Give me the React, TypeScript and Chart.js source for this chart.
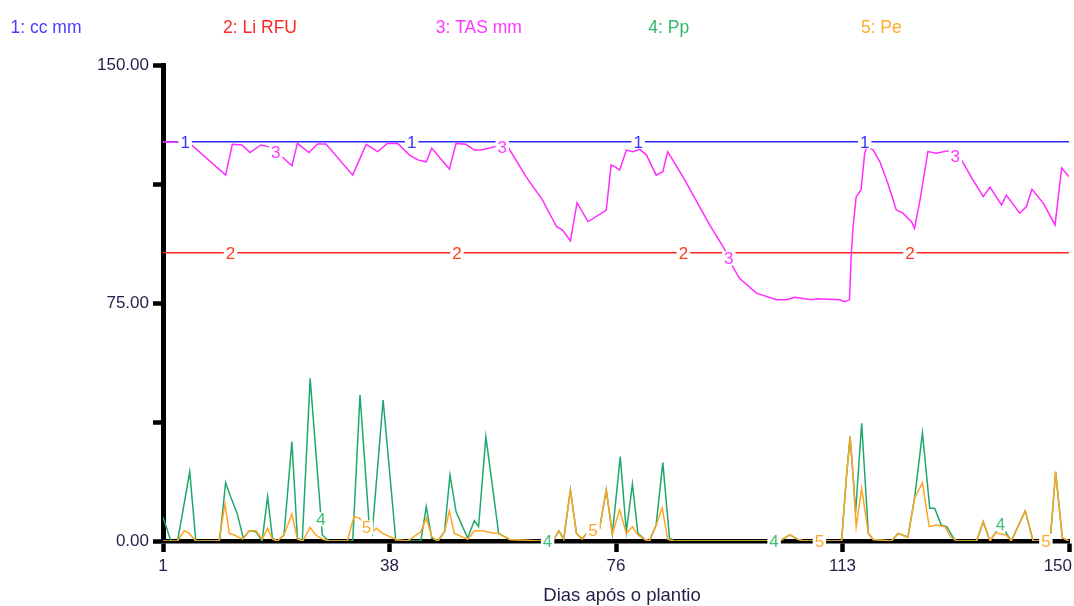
import React, { useEffect, useRef } from 'react';
import { Chart, registerables } from 'chart.js';

Chart.register(...registerables);

// ---- legend / text ----
const SERIES_NAMES = ['1: cc mm', '2: Li RFU', '3: TAS mm', '4: Pp', '5: Pe'];
const LINE_COLORS = ['#2b2bff', '#ff2222', '#ff2cff', '#1fa86b', '#ffa524'];
const LABEL_COLORS = ['#3535ff', '#ff3a1e', '#ff3cff', '#3fbf72', '#ffa82e'];
const LEGEND_COLORS = ['#4a3cff', '#ff2626', '#ff38ff', '#2fb868', '#ffab2a'];
const X_TITLE = 'Dias após o plantio';

// ---- axes ----
const X_TICKS = [1, 38.25, 75.5, 112.75, 150];
const Y_TICKS = [0, 37.5, 75, 112.5, 150];
const Y_TICK_LABELS = ['0.00', '', '75.00', '', '150.00'];

// ---- series 1: cc mm ----
const CC_DAYS = [1, 150];
const CC_MM = [125.8, 125.8];

// ---- series 2: Li RFU ----
const LI_DAYS = [1, 150];
const LI_RFU = [90.8, 90.8];

// ---- series 3: TAS mm ----
const TAS_DAYS = [1, 4.1, 5.6, 11.3, 12.4, 14.0, 15.3, 17.1, 18.5, 20.6, 22.2, 23.1, 25.0, 26.4, 27.8, 32.2, 34.4, 36.3, 37.9, 39.6, 41.5, 42.9, 44.3, 45.2, 48.1, 49.2, 50.8, 52.2, 53.3, 55.8, 57.7, 60.7, 63.4, 65.7, 66.7, 68.0, 69.1, 70.9, 73.9, 74.7, 75.3, 76.1, 77.2, 78.3, 79.4, 80.5, 82.1, 83.2, 84.0, 86.8, 90.9, 93.1, 94.7, 95.8, 98.6, 101.9, 103.5, 104.9, 107.6, 108.5, 112.3, 113.1, 113.9, 114.2, 114.5, 115.0, 115.8, 116.4, 116.8, 117.8, 118.9, 120.2, 121.6, 122.7, 124.1, 124.6, 125.5, 126.8, 128.2, 130.1, 132.3, 134.2, 135.9, 137.0, 138.9, 139.7, 141.9, 143.0, 143.9, 145.8, 147.7, 148.8, 150];
const TAS_MM = [125.7, 125.7, 125.0, 115.3, 125.0, 124.8, 122.4, 124.8, 124.2, 121.1, 118.2, 125.3, 122.4, 125.1, 125.1, 115.3, 125.0, 122.7, 125.3, 125.3, 121.7, 120.1, 119.5, 123.8, 117.2, 125.3, 125.0, 123.2, 123.2, 124.3, 124.3, 114.8, 107.5, 99.1, 98.0, 94.6, 106.6, 100.6, 104.3, 118.5, 118.0, 116.9, 123.2, 122.7, 123.4, 121.7, 115.3, 116.4, 122.7, 113.8, 99.6, 92.8, 86.5, 82.8, 78.1, 76.0, 76.0, 76.8, 76.0, 76.3, 76.0, 75.4, 76.0, 90.7, 99.1, 108.5, 110.6, 122.2, 124.3, 123.2, 119.5, 112.7, 104.3, 103.3, 100.6, 98.5, 107.5, 122.7, 122.2, 123.0, 120.1, 113.8, 108.5, 111.5, 105.9, 109.0, 103.3, 105.4, 110.8, 106.4, 99.6, 117.5, 114.8];

// ---- series 4: Pp ----
const PP_DAYS = [1, 2.3, 3.4, 5.4, 6.4, 10.3, 11.3, 12.1, 13.2, 14.2, 15.2, 16.3, 17.3, 18.2, 19.0, 19.8, 20.9, 22.2, 23.1, 23.9, 25.2, 27.2, 28.3, 31.6, 32.2, 33.4, 34.9, 35.4, 37.2, 39.3, 43.4, 44.3, 45.2, 46.2, 47.3, 48.2, 49.2, 51.1, 52.2, 52.9, 54.1, 56.2, 58.0, 62.9, 65.1, 66.1, 66.9, 68.0, 69.0, 69.9, 70.7, 71.6, 72.8, 73.9, 74.9, 76.2, 77.2, 78.2, 79.1, 80.2, 81.0, 82.1, 83.2, 84.3, 85.1, 102.4, 104.1, 105.4, 106.5, 112.6, 113.4, 114.0, 114.5, 114.9, 115.9, 117.0, 117.8, 120.8, 121.9, 123.5, 124.6, 125.9, 127.1, 127.9, 129.0, 129.9, 131.0, 131.5, 134.8, 135.9, 137.0, 137.9, 138.9, 139.7, 140.5, 142.8, 144.1, 146.9, 147.8, 148.9, 150];
const PP_MM = [7.5, 0, 0, 21.8, 0, 0, 18.4, 14.0, 8.7, 0.9, 3.2, 2.9, 0, 14.0, 0.9, 0, 1.9, 31.3, 0.9, 0, 51.3, 1.9, 0, 0, 0, 46.0, 5.4, 2.4, 44.4, 0, 0, 10.8, 0.9, 0, 2.9, 20.8, 9.2, 0.9, 6.4, 4.5, 32.9, 2.4, 0.5, 0, 0, 3.2, 0.6, 16.1, 2.4, 0.6, 2.4, 3.5, 4.0, 16.1, 2.2, 26.6, 2.9, 18.0, 2.4, 0.5, 0, 5.0, 24.7, 0.9, 0, 0, 1.9, 0.5, 0, 0, 20.3, 32.9, 20.3, 8.9, 37.1, 2.4, 0.5, 0, 2.4, 1.2, 13.5, 34.1, 10.3, 10.3, 5.0, 4.5, 0.9, 0, 0, 6.1, 0, 2.6, 5.7, 2.5, 0, 9.5, 0, 0, 21.8, 1.0, 0];

// ---- series 5: Pe ----
const PE_DAYS = [1, 3.4, 4.5, 5.3, 6.4, 10.2, 11.2, 11.9, 12.7, 14.1, 15.2, 16.3, 17.3, 18.2, 19.0, 19.8, 20.9, 22.2, 23.1, 24.0, 25.2, 26.1, 27.2, 28.3, 31.3, 32.4, 33.3, 35.2, 36.1, 37.1, 39.3, 41.2, 43.4, 44.3, 45.2, 46.2, 47.3, 48.1, 48.9, 49.5, 51.1, 52.2, 53.6, 55.0, 56.1, 58.0, 62.9, 65.1, 66.1, 66.9, 68.0, 69.0, 69.9, 70.7, 71.6, 72.8, 73.9, 74.9, 76.1, 77.2, 78.2, 79.1, 80.2, 81.0, 82.1, 83.1, 84.0, 84.8, 102.4, 104.1, 105.4, 106.5, 112.6, 113.4, 114.0, 114.5, 115.0, 115.9, 117.0, 117.8, 120.8, 121.9, 123.5, 124.6, 125.9, 127.0, 128.2, 129.6, 130.5, 131.5, 134.8, 135.9, 137.0, 137.9, 139.7, 140.5, 142.8, 144.1, 146.9, 147.8, 148.9, 150];
const PE_MM = [0, 0, 3.2, 2.4, 0, 0, 11.7, 2.4, 1.9, 0.6, 3.2, 3.2, 0.6, 4.0, 0.6, 0, 1.9, 8.5, 0.6, 0, 4.3, 1.9, 0.6, 0, 0, 7.7, 7.2, 2.4, 4.0, 2.4, 0.5, 0, 2.9, 7.2, 1.4, 0, 2.9, 9.5, 2.4, 1.9, 0.5, 3.2, 3.2, 2.6, 2.4, 0.5, 0, 0, 3.2, 0.6, 16.1, 2.4, 0.6, 2.4, 3.5, 4.0, 16.1, 2.2, 9.8, 2.4, 4.5, 1.9, 0.5, 0, 5.0, 10.5, 0.6, 0, 0, 1.9, 0.5, 0, 0, 20.3, 32.9, 20.3, 4.5, 16.6, 2.4, 0.5, 0, 2.4, 1.2, 13.5, 18.4, 4.5, 5.0, 4.5, 1.4, 0, 0, 6.1, 0, 2.6, 1.9, 0, 9.5, 0, 0, 21.8, 1.0, 0];

const FONT = '"Liberation Sans", Arial, sans-serif';
const TEXT_COLOR = '#241e4a';

const toPoints = (xs: number[], ys: number[]) => xs.map((x, i) => ({ x, y: ys[i] }));

export default function App() {
  const ref = useRef<HTMLCanvasElement | null>(null);

  useEffect(() => {
    document.body.style.margin = '0';
    document.body.style.background = '#ffffff';
    const canvas = ref.current;
    if (!canvas) return;

    const seriesLabels = {
      id: 'seriesLabels',
      afterDatasetsDraw(chart: any) {
        const ctx = chart.ctx;
        const area = chart.chartArea;
        ctx.save();
        ctx.font = '17px ' + FONT;
        ctx.textAlign = 'center';
        ctx.textBaseline = 'alphabetic';
        for (let s = 0; s < 5; s++) {
          const pts = chart.getDatasetMeta(s).data;
          for (let j = 0; j < 4; j++) {
            const x = area.left + area.width * (0.0245 + 0.05 * s + 0.25 * j);
            let y: number | null = null;
            for (let i = 0; i < pts.length - 1; i++) {
              const a = pts[i];
              const b = pts[i + 1];
              if (x >= a.x && x <= b.x) {
                const t = b.x === a.x ? 0 : (x - a.x) / (b.x - a.x);
                y = a.y + t * (b.y - a.y);
                break;
              }
            }
            if (y === null) continue;
            const txt = String(s + 1);
            const w = ctx.measureText(txt).width + 4;
            ctx.fillStyle = '#ffffff';
            ctx.fillRect(x - w / 2, y - 7, w, 14);
            ctx.fillStyle = LABEL_COLORS[s];
            ctx.fillText(txt, x, y + 6);
          }
        }
        ctx.restore();
      },
    };

    const decorations = {
      id: 'decorations',
      afterDraw(chart: any) {
        const ctx = chart.ctx;
        ctx.save();
        // legend row
        ctx.font = '17.5px ' + FONT;
        ctx.textAlign = 'left';
        ctx.textBaseline = 'alphabetic';
        SERIES_NAMES.forEach((name, k) => {
          ctx.fillStyle = LEGEND_COLORS[k];
          ctx.fillText(name, 10.5 + 212.6 * k, 33);
        });
        // x tick labels
        const xs = chart.scales.x;
        ctx.font = '17px ' + FONT;
        ctx.textAlign = 'center';
        ctx.fillStyle = TEXT_COLOR;
        xs.ticks.forEach((t: any) => {
          const txt = String(Math.round(t.value));
          const w = ctx.measureText(txt).width;
          const px = xs.getPixelForValue(t.value);
          const cx = Math.min(px, chart.width - 2 - w / 2);
          ctx.fillText(txt, cx, 571);
        });
        // x axis title
        ctx.font = '18.5px ' + FONT;
        ctx.fillText(X_TITLE, 622, 601);
        ctx.restore();
      },
    };

    const mk = (label: string, xs: number[], ys: number[], idx: number, order: number) => ({
      label,
      data: toPoints(xs, ys),
      borderColor: LINE_COLORS[idx],
      backgroundColor: LINE_COLORS[idx],
      borderWidth: 1.5,
      pointRadius: 0,
      tension: 0,
      fill: false,
      order,
    });

    const chart = new Chart(canvas, {
      type: 'line',
      data: {
        datasets: [
          mk(SERIES_NAMES[0], CC_DAYS, CC_MM, 0, 5),
          mk(SERIES_NAMES[1], LI_DAYS, LI_RFU, 1, 4),
          mk(SERIES_NAMES[2], TAS_DAYS, TAS_MM, 2, 3),
          mk(SERIES_NAMES[3], PP_DAYS, PP_MM, 3, 2),
          mk(SERIES_NAMES[4], PE_DAYS, PE_MM, 4, 1),
        ],
      },
      options: {
        responsive: false,
        animation: false,
        devicePixelRatio: 1,
        layout: { padding: { top: 65, right: 5, left: 0, bottom: 0 } },
        plugins: { legend: { display: false }, tooltip: { enabled: false }, title: { display: false } },
        scales: {
          x: {
            type: 'linear',
            min: 1,
            max: 150,
            afterBuildTicks: (s: any) => {
              s.ticks = X_TICKS.map((v) => ({ value: v }));
            },
            afterFit: (s: any) => {
              s.height = 65;
              s.paddingLeft = 0;
              s.paddingRight = 0;
            },
            ticks: { display: false },
            grid: {
              display: true,
              drawOnChartArea: false,
              drawTicks: true,
              tickLength: 11,
              tickWidth: 4.5,
              tickColor: '#000000',
              color: '#000000',
            },
            border: { display: true, color: '#000000', width: 4.5 },
            title: { display: false },
          },
          y: {
            type: 'linear',
            min: 0,
            max: 150,
            afterBuildTicks: (s: any) => {
              s.ticks = Y_TICKS.map((v) => ({ value: v }));
            },
            afterFit: (s: any) => {
              s.width = 163;
            },
            ticks: {
              callback: (_v: any, i: number) => Y_TICK_LABELS[i],
              color: TEXT_COLOR,
              font: { family: FONT, size: 17 },
              padding: 4,
              autoSkip: false,
            },
            grid: {
              display: true,
              drawOnChartArea: false,
              drawTicks: true,
              tickLength: 10,
              tickWidth: 4.5,
              tickColor: '#000000',
              color: '#000000',
            },
            border: { display: true, color: '#000000', width: 5 },
          },
        },
      },
      plugins: [seriesLabels, decorations],
    } as any);

    return () => chart.destroy();
  }, []);

  return (
    <div style={{ width: 1074, height: 606, background: '#ffffff' }}>
      <canvas ref={ref} width={1074} height={606} style={{ display: 'block' }} />
    </div>
  );
}
